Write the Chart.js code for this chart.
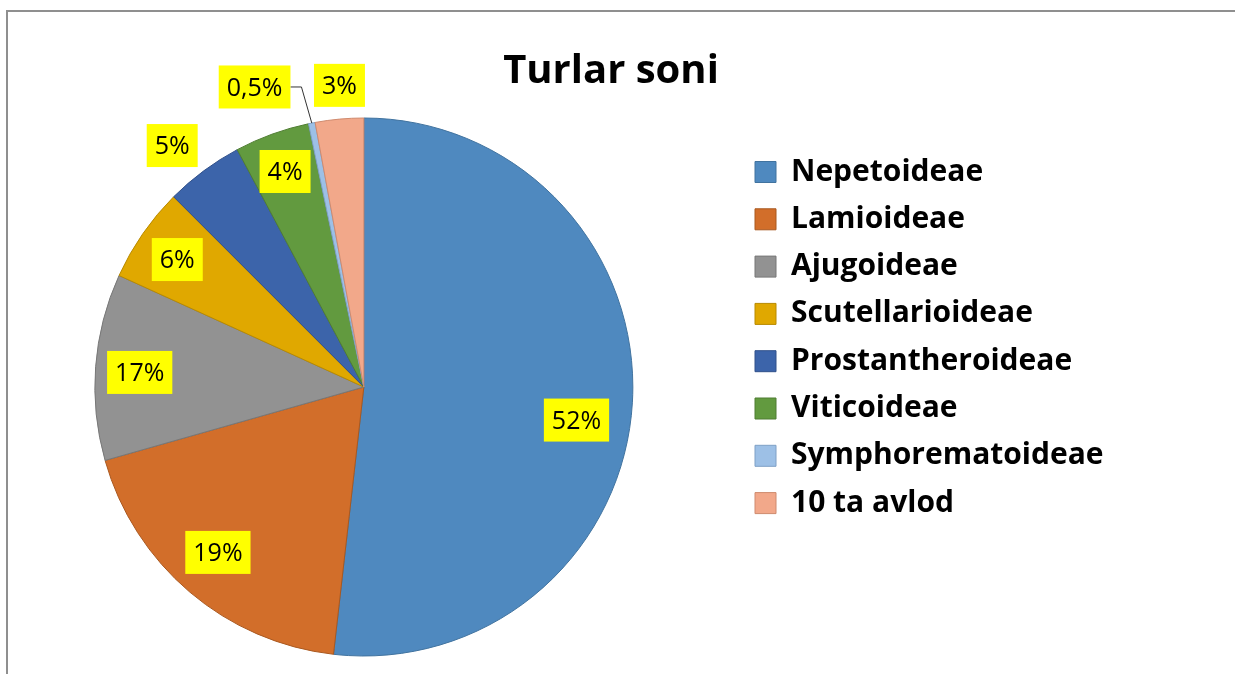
<!DOCTYPE html>
<html>
<head>
<meta charset="utf-8">
<title>Turlar soni</title>
<script src="https://cdn.jsdelivr.net/npm/chart.js@4.4.0/dist/chart.umd.min.js"></script>
<style>
  html, body { margin: 0; padding: 0; background: #fff; overflow: hidden; }
  #frame { position: absolute; left: 6px; top: 10px; width: 1300px; height: 700px;
           border-left: 2px solid #8f8f8f; border-top: 2px solid #8f8f8f; }
  /* canvas starts 10px left of the window so the pie can sit at x = 363 */
  #wrap { position: absolute; left: -10px; top: 0; width: 1245px; height: 674px; }
</style>
</head>
<body>
<div id="frame"></div>
<div id="wrap"><canvas id="chartTurlar" width="1245" height="674"></canvas></div>
<script>
// Data
var sarlavha = 'Turlar soni';
var turlar = ['Nepetoideae', 'Lamioideae', 'Ajugoideae', 'Scutellarioideae',
              'Prostantheroideae', 'Viticoideae', 'Symphorematoideae', '10 ta avlod'];
// slice sizes (percent of the circle)
var ulush = [51.8, 18.8, 11.2, 5.7, 4.7, 4.5, 0.4, 2.9];
// labels as printed on the chart
var yorliqlar = ['52%', '19%', '17%', '6%', '5%', '4%', '0,5%', '3%'];

var ranglar = ['#4f89bf', '#d26e2a', '#929292', '#e0a800', '#3c64aa', '#629a3f', '#9dc0e6', '#f2a88a'];
var chegaralar = ['#41739f', '#a9581f', '#777777', '#b88a00', '#30508a', '#4f7d32', '#7fa0c6', '#cf8a6e'];

var canvas = document.getElementById('chartTurlar');
var ctx = canvas.getContext('2d');

Chart.defaults.font.family = 'Open Sans';

// legend sits right of the pie, boxes start at x = 765 on the canvas
var legendSize = 30;
var legendPad = 17.3;
ctx.font = 'bold ' + legendSize + 'px Open Sans';
var longest = Math.max.apply(null, turlar.map(function (t) { return ctx.measureText(t).width; }));
var legendWidth = legendPad + 21 + legendSize / 2 + longest + 10;
var padRight = canvas.width - (765 - legendPad) - legendWidth;

// title drawn at a fixed place above the chart
var titlePlugin = {
    id: 'titleTop',
    afterDraw: function (chart, args, opts) {
        var c = chart.ctx;
        c.save();
        c.font = 'bold ' + opts.size + 'px Open Sans';
        c.fillStyle = '#000';
        c.textAlign = 'center';
        c.textBaseline = 'alphabetic';
        c.fillText(opts.text, opts.x, opts.y);
        c.restore();
    }
};

// yellow percent boxes placed from each arc's own angle and radius
var sliceLabels = {
    id: 'sliceLabels',
    afterDatasetsDraw: function (chart, args, opts) {
        var c = chart.ctx;
        var meta = chart.getDatasetMeta(0);
        c.save();
        c.font = opts.size + 'px Open Sans';
        c.textAlign = 'center';
        c.textBaseline = 'alphabetic';
        meta.data.forEach(function (arc, i) {
            var p = arc.getProps(['x', 'y', 'startAngle', 'endAngle', 'outerRadius'], true);
            var mid = (p.startAngle + p.endAngle) / 2;
            var a = mid + opts.shift[i] * Math.PI / 180;
            var d = p.outerRadius * opts.dist[i];
            var cx = p.x + d * Math.cos(a);
            var cy = p.y + d * Math.sin(a);
            var text = yorliqlar[i];
            var w = c.measureText(text).width + opts.padX * 2;
            var h = opts.boxH;
            if (opts.leader[i]) {
                var ex = p.x + p.outerRadius * Math.cos(mid);
                var ey = p.y + p.outerRadius * Math.sin(mid);
                c.beginPath();
                c.moveTo(cx + w / 2, cy);
                c.lineTo(cx + w / 2 + 11, cy);
                c.lineTo(ex, ey);
                c.strokeStyle = '#333';
                c.lineWidth = 1;
                c.stroke();
            }
            c.fillStyle = '#ffff00';
            c.fillRect(cx - w / 2, cy - h / 2, w, h);
            c.fillStyle = '#000';
            c.fillText(text, cx, cy + opts.size * 0.357);
        });
        c.restore();
    }
};

var data = {
    labels: turlar,
    datasets: [{
        data: ulush,
        backgroundColor: ranglar,
        borderColor: chegaralar,
        borderWidth: 1,
        radius: 269
    }]
};

var options = {
    responsive: false,
    animation: false,
    layout: {
        padding: { left: 0, right: padRight, top: 139.7, bottom: 39.7 }
    },
    plugins: {
        tooltip: { enabled: false },
        title: { display: false },
        legend: {
            position: 'right',
            align: 'start',
            labels: {
                color: '#000',
                font: { size: legendSize, weight: 'bold', family: 'Open Sans' },
                boxWidth: 21,
                boxHeight: 21,
                padding: legendPad
            }
        },
        titleTop: { text: sarlavha, size: 40, x: 621, y: 83 },
        sliceLabels: {
            size: 25,
            padX: 8,
            boxH: 43,
            shift: [5.6, 1.1, -0.6, -0.4, -1.9, -0.1, -8.85, 0.6],
            dist: [0.80, 0.82, 0.835, 0.84, 1.146, 0.853, 1.187, 1.125],
            leader: [false, false, false, false, false, false, true, false]
        }
    }
};

var turlarChart = new Chart(ctx, {
    type: 'pie',
    data: data,
    options: options,
    plugins: [sliceLabels, titlePlugin]
});
</script>
</body>
</html>
